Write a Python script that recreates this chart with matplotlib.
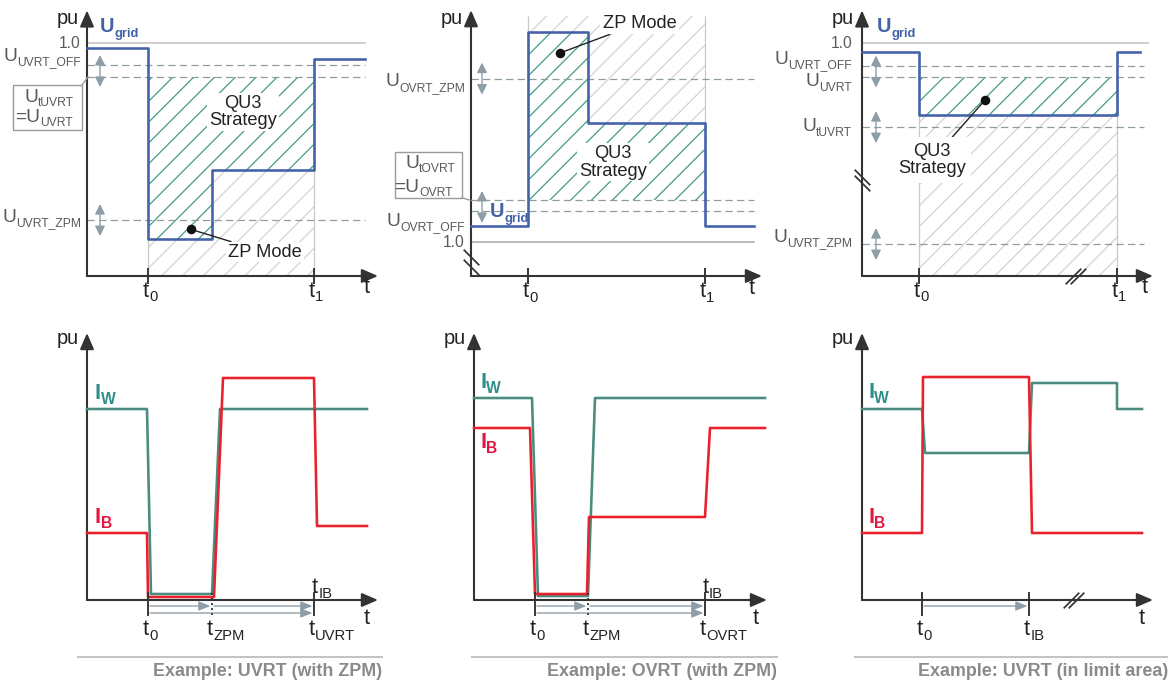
import matplotlib
matplotlib.use("Agg")
from matplotlib import pyplot as plt
from matplotlib.transforms import offset_copy
from matplotlib.patches import Rectangle

plt.rcParams['font.family'] = ['Liberation Sans', 'DejaVu Sans']
plt.rcParams['hatch.linewidth'] = 0.7

# colours
BLUE = '#4462a8'
TEAL = '#4b8c80'
TEAL_TXT = '#2f8e8a'
RED = '#e8212d'
RED_TXT = '#e3173f'
AXC = '#333333'
DASH = '#8d9ca2'
LBL = '#5a5a5a'
GREEN_H = '#3f9a80'
GRAY_H = '#d2d2d2'
ARR = '#8e9ea8'

# ---- data (time in arbitrary units, voltage / current in pu) ----
# top left: UVRT with ZPM
a_t = [0, 6.1, 12.5, 22.7, 27.8]
a_u = [0.98, 0.16, 0.455, 0.93, 0.93]
a_off, a_uvrt, a_zpm = 0.906, 0.854, 0.24
a_t0, a_t1 = 6.1, 22.7

# top middle: OVRT with ZPM
b_t = [0, 5.7, 11.7, 23.4, 28.3]
b_u = [1.04, 1.50, 1.285, 1.04, 1.04]
b_off, b_ovrt, b_zpm = 1.075, 1.10, 1.39
b_top = 1.54
b_t0, b_t1 = 5.7, 23.4

# top right: UVRT in limit area
c_t = [0, 5.7, 25.5, 27.8]
c_u = [0.961, 0.691, 0.961, 0.961]
c_off, c_uvrt, c_tuvrt, c_zpm = 0.901, 0.854, 0.639, 0.137
c_t0, c_t1 = 5.7, 25.5

# bottom left currents
d_iw_t = [0, 6.0, 6.4, 12.5, 13.3, 28.0]
d_iw = [0.955, 0.955, 0.03, 0.03, 0.955, 0.955]
d_ib_t = [0, 6.0, 6.1, 12.7, 13.6, 22.7, 23.0, 28.0]
d_ib = [0.335, 0.335, 0.015, 0.015, 1.11, 1.11, 0.37, 0.37]
d_ticks = [6.1, 12.5, 22.7]

# bottom middle currents
e_iw_t = [0, 5.8, 6.4, 11.4, 12.1, 29.1]
e_iw = [1.01, 1.01, 0.02, 0.02, 1.01, 1.01]
e_ib_t = [0, 5.6, 6.1, 11.3, 11.5, 23.1, 23.6, 29.1]
e_ib = [0.86, 0.86, 0.03, 0.03, 0.415, 0.415, 0.86, 0.86]
e_ticks = [6.1, 11.4, 23.1]

# bottom right currents
f_iw_t = [0, 6.0, 6.3, 16.7, 17.0, 25.5, 25.5, 28.0]
f_iw = [0.955, 0.955, 0.735, 0.735, 1.085, 1.085, 0.955, 0.955]
f_ib_t = [0, 6.0, 6.1, 16.7, 17.0, 28.0]
f_ib = [0.335, 0.335, 1.115, 1.115, 0.335, 0.335]
f_ticks = [6.0, 16.7]

captions = ['Example: UVRT (with ZPM)', 'Example: OVRT (with ZPM)',
            'Example: UVRT (in limit area)']

W, H, DPI = 1168, 686, 125
fig = plt.figure(figsize=(W / DPI, H / DPI), dpi=DPI)
rend = fig.canvas.get_renderer()


def make_ax(xs, ys, ox, oy, sy, y0):
    # axes covering pixel box xs x ys, data origin (0, y0) at pixel (ox, oy)
    ax = fig.add_axes([xs[0] / W, 1 - ys[1] / H, (xs[1] - xs[0]) / W, (ys[1] - ys[0]) / H])
    ax.set_xlim((xs[0] - ox) / 10, (xs[1] - ox) / 10)
    ax.set_ylim(y0 + (oy - ys[1]) / sy, y0 + (oy - ys[0]) / sy)
    ax.axis('off')
    ax.sy = sy
    return ax


def sublabel(ax, x, y, main, sub, fs=11, sfs=7, color=LBL, ha='left', weight='normal', drop=4.5):
    # main letter plus a separately sized subscript, baseline at y
    kw = dict(va='baseline', color=color, fontweight=weight, zorder=8)
    if ha == 'left':
        t1 = ax.text(x, y, main, ha='left', fontsize=fs, **kw)
        w = t1.get_window_extent(rend).width
        ax.text(x, y, sub, ha='left', fontsize=sfs,
                transform=offset_copy(ax.transData, fig=fig, x=w, y=-drop, units='dots'), **kw)
    else:
        t2 = ax.text(x, y, sub, ha='right', fontsize=sfs,
                     transform=offset_copy(ax.transData, fig=fig, x=0, y=-drop, units='dots'), **kw)
        w = t2.get_window_extent(rend).width
        ax.text(x, y, main, ha='right', fontsize=fs,
                transform=offset_copy(ax.transData, fig=fig, x=-w, y=0, units='dots'), **kw)


def axes_arrows(ax, y0, ytip, xtip=29.1, pu_off=8):
    st = '-|>,head_length=0.65,head_width=0.28'
    ax.annotate('', xy=(0, ytip), xytext=(0, y0),
                arrowprops=dict(arrowstyle=st, color=AXC, lw=1.2, shrinkA=0, shrinkB=0, mutation_scale=12))
    ax.annotate('', xy=(xtip, y0), xytext=(0, y0),
                arrowprops=dict(arrowstyle=st, color=AXC, lw=1.2, shrinkA=0, shrinkB=0, mutation_scale=12))
    ax.text(-0.8, ytip - pu_off / ax.sy, 'pu', ha='right', va='center', fontsize=11.5, color='#222')


def dbl_arrow(ax, x, yc):
    d = 16 / ax.sy
    ax.annotate('', xy=(x, yc + d), xytext=(x, yc - d),
                arrowprops=dict(arrowstyle='<|-|>,head_length=0.6,head_width=0.3', color=ARR,
                                lw=0.8, shrinkA=0, shrinkB=0, mutation_scale=8))


def tlabel(ax, x, y, sub):
    sublabel(ax, x, y, 't', sub, fs=12.5, sfs=8.5, color='#222', drop=4.5)


def hline(ax, y, x1, style='--', color=DASH, lw=0.7):
    ax.plot([0, x1], [y, y], ls=style, color=color, lw=lw, dashes=(6, 3.5) if style == '--' else (None, None),
            zorder=2)


def brk(ax, x, y, d, kind):
    # axis break marks
    mk = [(-1, 1), (1, -1)] if kind == 'y' else [(-1, -1), (1, 1)]
    if kind == 'y':
        pts = ([x, x], [y + d, y - d])
    else:
        pts = ([x - d, x + d], [y, y])
    ax.plot(*pts, ls='none', marker=mk, ms=9, mew=1.0, color=AXC, zorder=5)


def ugrid_label(ax, x, y):
    sublabel(ax, x, y, 'U', 'grid', fs=11.5, sfs=7.5, color=BLUE, weight='bold', drop=5)


def boxed(ax, xr, yr, lines, target):
    # framed "U_t.. = U_.." label with a leader line to the threshold at the axis
    ax.add_patch(Rectangle((xr[0], yr[0]), xr[1] - xr[0], yr[1] - yr[0], fc='white', ec='#9a9a9a',
                           lw=0.8, zorder=6))
    ax.plot([xr[1], target[0]], [yr[0] if target[1] < yr[0] else yr[1], target[1]],
            color='#9a9a9a', lw=0.8, zorder=6)
    for (x, y, main, sub) in lines:
        sublabel(ax, x, y, main, sub, ha='right')


# ================= top left =================
ax = make_ax((0, 390), (0, 305), 87, 276, 233, 0)
ax.fill_between([a_t0, a_t1], 0, a_uvrt, facecolor='none', edgecolor=GRAY_H, hatch='//', lw=0, zorder=0)
ax.fill_between(a_t[1:4], a_u[1:4], a_uvrt, step='post', facecolor='white', edgecolor=GREEN_H,
                hatch='//', lw=0, zorder=1)
ax.vlines([a_t0, a_t1], 0, a_uvrt, color='#c8c8c8', lw=0.7, zorder=1)
hline(ax, 1.0, 27.8, style='-', color='#c8c8c8', lw=1.0)
for y in (a_off, a_uvrt, a_zpm):
    hline(ax, y, 27.8)
ax.plot(a_t, a_u, drawstyle='steps-post', color=BLUE, lw=1.5, zorder=4)
axes_arrows(ax, 0, 1.14)
ax.plot([a_t0, a_t1], [0, 0], ls='none', marker='|', ms=9, mew=1.1, color=AXC)
dbl_arrow(ax, 1.3, (a_off + a_uvrt) / 2)
dbl_arrow(ax, 1.3, a_zpm)
ugrid_label(ax, 1.3, 1.047)
ax.text(-0.6, 1.0, '1.0', ha='right', va='center', fontsize=9, color=LBL)
sublabel(ax, -0.6, 0.923, 'U', 'UVRT_OFF', ha='right')
sublabel(ax, -0.6, 0.232, 'U', 'UVRT_ZPM', ha='right')
boxed(ax, (-7.4, -0.5), (0.627, 0.82), [(-1.3, 0.747, 'U', 'tUVRT'), (-1.4, 0.661, '=U', 'UVRT')],
      (0.1, a_uvrt))
ax.text(15.6, 0.704, 'QU3\nStrategy', ha='center', va='center', fontsize=10.5, linespacing=1.05, color='#222',
        bbox=dict(boxstyle='square,pad=0.1', fc='white', ec='none'), zorder=6)
ax.plot([10.4], [0.2], 'o', color='#111', ms=4.5, zorder=7)
ax.annotate('ZP Mode', xy=(10.4, 0.2), xytext=(14.1, 0.103), ha='left', va='center', fontsize=10.5,
            color='#222', bbox=dict(boxstyle='square,pad=0.1', fc='white', ec='none'),
            arrowprops=dict(arrowstyle='-', color='#222', lw=0.8, shrinkA=0, shrinkB=0), zorder=6)
tlabel(ax, a_t0 - 0.5, -0.09, '0')
tlabel(ax, a_t1 - 0.5, -0.09, '1')
ax.text(28.0, -0.05, 't', ha='center', va='center', fontsize=12.5, color='#222')

# ================= top middle =================
ax = make_ax((390, 780), (0, 305), 471, 276, 420, 0.92)
ax.fill_between([b_t0, b_t1], b_ovrt, b_top, facecolor='none', edgecolor=GRAY_H, hatch='//', lw=0, zorder=0)
ax.fill_between(b_t[1:4], b_u[1:4], b_ovrt, step='post', facecolor='white', edgecolor=GREEN_H,
                hatch='//', lw=0, zorder=1)
ax.vlines([b_t0, b_t1], b_ovrt, b_top, color='#c8c8c8', lw=0.7, zorder=1)
hline(ax, 1.0, 28.3, style='-', color='#a8a8a8', lw=0.9)
for y in (b_off, b_ovrt, b_zpm):
    hline(ax, y, 28.3)
ax.plot(b_t, b_u, drawstyle='steps-post', color=BLUE, lw=1.5, zorder=4)
axes_arrows(ax, 0.92, 1.553)
ax.plot([b_t0, b_t1], [0.92, 0.92], ls='none', marker='|', ms=9, mew=1.1, color=AXC)
brk(ax, 0, 0.953, 0.012, 'y')
dbl_arrow(ax, 1.1, b_zpm)
dbl_arrow(ax, 1.1, (b_off + b_ovrt) / 2 - 0.003)
ugrid_label(ax, 1.9, 1.06)
ax.text(-0.6, 1.0, '1.0', ha='right', va='center', fontsize=9, color=LBL)
sublabel(ax, -0.6, 1.372, 'U', 'OVRT_ZPM', ha='right')
sublabel(ax, -0.6, 1.039, 'U', 'OVRT_OFF', ha='right')
boxed(ax, (-7.6, -0.9), (1.106, 1.215), [(-1.5, 1.178, 'U', 'tOVRT'), (-1.8, 1.12, '=U', 'OVRT')],
      (0.0, b_ovrt))
ax.text(14.2, 1.191, 'QU3\nStrategy', ha='center', va='center', fontsize=10.5, linespacing=1.05, color='#222',
        bbox=dict(boxstyle='square,pad=0.1', fc='white', ec='none'), zorder=6)
ax.plot([8.9], [1.451], 'o', color='#111', ms=4.5, zorder=7)
ax.annotate('ZP Mode', xy=(8.9, 1.451), xytext=(13.2, 1.522), ha='left', va='center', fontsize=10.5,
            color='#222', bbox=dict(boxstyle='square,pad=0.15', fc='white', ec='none'),
            arrowprops=dict(arrowstyle='-', color='#222', lw=0.8, shrinkA=0, shrinkB=0), zorder=6)
tlabel(ax, b_t0 - 0.5, 0.92 - 21 / 420, '0')
tlabel(ax, b_t1 - 0.5, 0.92 - 21 / 420, '1')
ax.text(28.1, 0.92 - 12 / 420, 't', ha='center', va='center', fontsize=12.5, color='#222')

# ================= top right =================
ax = make_ax((780, 1168), (0, 305), 862, 276, 233, 0)
ax.fill_between([c_t0, c_t1], 0, c_uvrt, facecolor='none', edgecolor=GRAY_H, hatch='//', lw=0, zorder=0)
ax.fill_between(c_t[1:3], c_u[1:3], c_uvrt, step='post', facecolor='white', edgecolor=GREEN_H,
                hatch='//', lw=0, zorder=1)
ax.vlines([c_t0, c_t1], 0, c_uvrt, color='#c8c8c8', lw=0.7, zorder=1)
hline(ax, 1.0, 28.6, style='-', color='#c8c8c8', lw=1.0)
for y in (c_off, c_uvrt, c_tuvrt, c_zpm):
    hline(ax, y, 28.2)
ax.plot(c_t, c_u, drawstyle='steps-post', color=BLUE, lw=1.5, zorder=4)
axes_arrows(ax, 0, 1.14)
ax.plot([c_t0, c_t1], [0, 0], ls='none', marker='|', ms=9, mew=1.1, color=AXC)
brk(ax, 0, 0.412, 0.012, 'y')
brk(ax, 21.3, 0, 0.25, 'x')
dbl_arrow(ax, 1.4, (c_off + c_uvrt) / 2)
dbl_arrow(ax, 1.4, c_tuvrt)
dbl_arrow(ax, 1.4, c_zpm)
ugrid_label(ax, 1.5, 1.047)
ax.text(-1.0, 1.0, '1.0', ha='right', va='center', fontsize=9, color=LBL)
sublabel(ax, -1.0, 0.91, 'U', 'UVRT_OFF', ha='right')
sublabel(ax, -1.0, 0.815, 'U', 'UVRT', ha='right')
sublabel(ax, -1.0, 0.622, 'U', 'tUVRT', ha='right')
sublabel(ax, -1.0, 0.146, 'U', 'UVRT_ZPM', ha='right')
ax.plot([12.3], [0.755], 'o', color='#111', ms=4.5, zorder=7)
ax.annotate('QU3\nStrategy', xy=(12.3, 0.755), xytext=(7.0, 0.498), ha='center', va='center', fontsize=10.5,
            linespacing=1.05, color='#222', bbox=dict(boxstyle='square,pad=0.3', fc='white', ec='none'),
            arrowprops=dict(arrowstyle='-', color='#222', lw=0.8, shrinkA=0, shrinkB=0), zorder=6)
tlabel(ax, c_t0 - 0.5, -0.09, '0')
tlabel(ax, c_t1 - 0.5, -0.09, '1')
ax.text(28.3, -0.05, 't', ha='center', va='center', fontsize=12.5, color='#222')


# ================= bottom row =================
def bottom(ax, iw_t, iw, ib_t, ib, ticks, tsubs, iw_y, ib_y, lab_x, zpm_tick, caption, cap_x, xtip):
    axes_arrows(ax, 0, 1.335, xtip, pu_off=5)
    ax.plot(iw_t, iw, color=TEAL, lw=1.5, zorder=3)
    ax.plot(ib_t, ib, color=RED, lw=1.5, zorder=4)
    sublabel(ax, lab_x, iw_y, 'I', 'W', fs=12.5, sfs=9, color=TEAL_TXT, weight='bold', drop=5)
    sublabel(ax, lab_x, ib_y, 'I', 'B', fs=12.5, sfs=9, color=RED_TXT, weight='bold', drop=5)
    for i, tk in enumerate(ticks):
        ls = ':' if (zpm_tick and i == 1) else '-'
        ax.plot([tk, tk], [0.035, -0.075], ls=ls, color=AXC, lw=1.1, zorder=5)
        tlabel(ax, tk - 0.5, -0.175, tsubs[i])
    arrow = dict(arrowstyle='-|>,head_length=0.7,head_width=0.28', color=ARR, lw=0.8,
                 shrinkA=0, shrinkB=0, mutation_scale=8)
    if zpm_tick:
        ax.annotate('', xy=(ticks[1] - 0.15, -0.03), xytext=(ticks[0] + 0.2, -0.03), arrowprops=arrow)
        ax.annotate('', xy=(ticks[2] - 0.15, -0.03), xytext=(ticks[1] + 0.2, -0.03), arrowprops=arrow)
        ax.annotate('', xy=(ticks[2] - 0.15, -0.065), xytext=(ticks[0] + 0.2, -0.065), arrowprops=arrow)
        tlabel(ax, ticks[2] - 0.2, 0.035, 'IB')
    else:
        ax.annotate('', xy=(ticks[1] - 0.15, -0.03), xytext=(ticks[0] + 0.2, -0.03), arrowprops=arrow)
    ax.text(xtip - 1.1, -0.09, 't', ha='center', va='center', fontsize=12.5, color='#222')
    ax.plot(cap_x, [-0.285, -0.285], color='#c4c4c4', lw=1.2, clip_on=False)
    ax.text(cap_x[1], -0.36, caption, ha='right', va='center', fontsize=10.3, fontweight='bold', color='#8a8a8a')


ax = make_ax((0, 390), (305, 686), 87, 600, 200, 0)
bottom(ax, d_iw_t, d_iw, d_ib_t, d_ib, d_ticks, ['0', 'ZPM', 'UVRT'], 1.005, 0.385, 0.8, True,
       captions[0], [-0.9, 29.5], 29.1)
ax = make_ax((390, 780), (305, 686), 474, 600, 200, 0)
bottom(ax, e_iw_t, e_iw, e_ib_t, e_ib, e_ticks, ['0', 'ZPM', 'OVRT'], 1.06, 0.76, 0.6, True,
       captions[1], [-0.2, 30.3], 29.3)
ax = make_ax((780, 1168), (305, 686), 862, 600, 200, 0)
bottom(ax, f_iw_t, f_iw, f_ib_t, f_ib, f_ticks, ['0', 'IB'], 1.01, 0.385, 0.6, False,
       captions[2], [-0.7, 30.6], 29.1)
brk(ax, 21.1, 0, 0.25, 'x')

fig.savefig('out.png', dpi=DPI, facecolor='white')
